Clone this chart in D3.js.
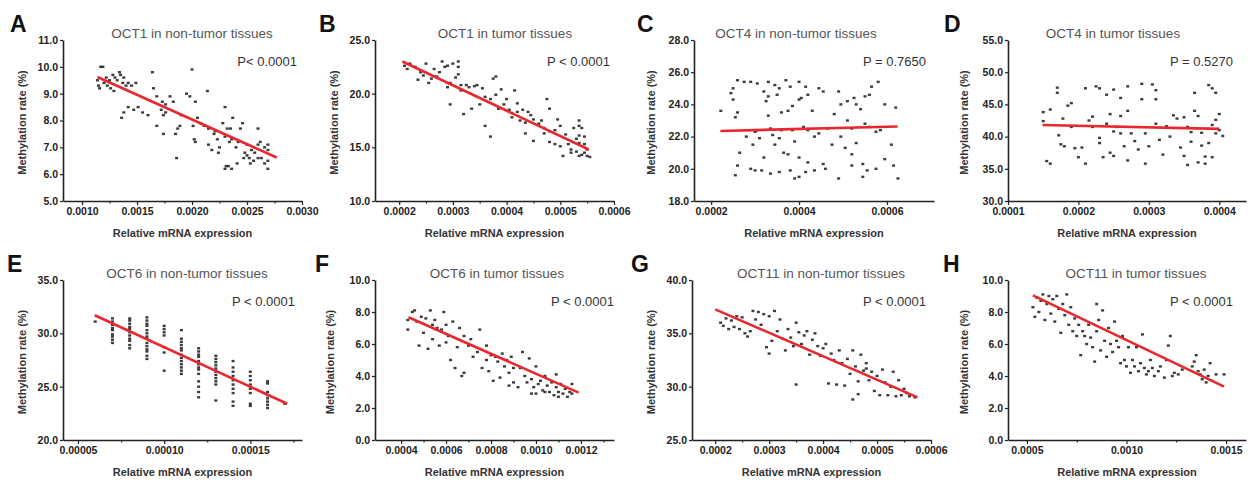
<!DOCTYPE html>
<html lang="en">
<head>
<meta charset="UTF-8">
<title>OCT methylation vs mRNA expression</title>
<script src="https://cdnjs.cloudflare.com/ajax/libs/d3/7.8.5/d3.min.js"></script>
<style>
    body { margin: 0; background: #fff; }
    svg { font-family: "Liberation Sans", Arial, sans-serif; }
</style>
</head>
<body>
<svg id="fig" width="1248" height="480"></svg>
<script>
// ---- A: OCT1 in non-tumor tissues ----
const ptsA = [
    [0.00114,9.5],[0.00115,9.3],[0.00117,10.0],[0.00119,10.0],[0.00116,9.2],[0.00120,9.4],[0.00122,9.6],[0.00123,9.3],
    [0.00125,9.5],[0.00126,9.2],[0.00128,9.7],[0.00130,9.6],[0.00132,9.5],[0.00134,9.8],[0.00135,9.7],[0.00138,9.6],
    [0.00140,9.3],[0.00142,9.4],[0.00145,9.3],[0.00137,9.4],[0.00129,9.1],[0.00136,8.1],[0.00138,8.3],[0.00142,8.5],
    [0.00147,8.4],[0.00151,8.5],[0.00155,8.3],[0.00160,8.2],[0.00149,9.4],[0.00164,9.8],[0.00165,9.2],[0.00168,8.9],
    [0.00173,8.7],[0.00176,8.6],[0.00172,8.4],[0.00174,8.2],[0.00176,8.3],[0.00180,8.9],[0.00183,8.7],[0.00168,7.8],
    [0.00174,7.5],[0.00185,7.5],[0.00187,7.7],[0.00189,7.8],[0.00190,8.2],[0.00186,6.6],[0.00195,9.0],[0.00198,8.9],
    [0.00200,9.9],[0.00201,7.8],[0.00202,7.3],[0.00203,7.2],[0.00203,8.7],[0.00205,8.1],[0.00208,7.9],[0.00211,7.8],
    [0.00214,9.1],[0.00215,7.7],[0.00215,7.1],[0.00218,6.9],[0.00220,7.5],[0.00221,7.6],[0.00223,7.3],[0.00225,7.0],
    [0.00224,6.8],[0.00228,7.9],[0.00230,8.5],[0.00232,7.7],[0.00235,7.7],[0.00230,7.4],[0.00234,7.2],[0.00236,7.3],
    [0.00240,7.0],[0.00242,7.2],[0.00237,8.1],[0.00244,7.7],[0.00246,7.9],[0.00250,7.1],[0.00254,6.9],[0.00257,6.8],
    [0.00260,7.1],[0.00262,7.2],[0.00231,6.3],[0.00230,6.2],[0.00233,6.3],[0.00236,6.2],[0.00241,6.4],[0.00247,6.6],
    [0.00250,6.7],[0.00253,6.4],[0.00256,6.5],[0.00260,7.7],[0.00263,6.6],[0.00266,6.4],[0.00269,6.5],[0.00269,7.1],
    [0.00269,6.9],[0.00269,6.2],[0.00248,6.8],[0.00252,6.6],[0.00260,6.6],[0.00266,7.0]
];
const fitA = [[0.00114, 9.62], [0.00277, 6.62]];
const xTicksA = [0.0010, 0.0015, 0.0020, 0.0025, 0.0030];
const yTicksA = [5, 6, 7, 8, 9, 10, 11];

// ---- B: OCT1 in tumor tissues ----
const ptsB = [
    [0.000210,22.6],[0.000215,22.3],[0.000220,22.8],[0.000230,22.5],[0.000235,21.3],[0.000240,22.0],[0.000245,21.7],
    [0.000250,22.8],[0.000255,21.0],[0.000260,21.4],[0.000265,22.3],[0.000270,21.6],[0.000275,22.0],[0.000280,23.0],
    [0.000285,22.5],[0.000290,22.6],[0.000295,21.0],[0.000290,20.6],[0.000295,19.0],[0.000300,22.8],[0.000305,21.5],
    [0.000310,23.0],[0.000310,22.5],[0.000310,21.8],[0.000315,20.8],[0.000315,20.3],[0.000320,18.1],[0.000325,20.8],
    [0.000330,20.6],[0.000335,18.6],[0.000340,20.7],[0.000345,20.8],[0.000350,19.0],[0.000355,20.5],[0.000360,19.7],
    [0.000360,17.0],[0.000370,19.5],[0.000375,21.4],[0.000370,16.0],[0.000380,21.6],[0.000380,19.9],[0.000385,18.6],
    [0.000390,20.4],[0.000395,19.0],[0.000400,19.5],[0.000405,18.5],[0.000410,18.2],[0.000415,20.3],[0.000420,19.1],
    [0.000410,17.8],[0.000420,18.3],[0.000425,17.5],[0.000430,18.5],[0.000435,17.3],[0.000435,16.3],[0.000440,18.3],
    [0.000445,18.0],[0.000450,17.6],[0.000450,15.6],[0.000460,17.2],[0.000465,17.5],[0.000470,16.8],[0.000470,16.3],
    [0.000475,19.5],[0.000480,18.6],[0.000480,16.5],[0.000490,16.6],[0.000495,17.6],[0.000500,17.0],[0.000480,15.5],
    [0.000490,15.3],[0.000500,15.1],[0.000505,14.2],[0.000510,16.2],[0.000515,15.3],[0.000520,14.5],[0.000520,14.8],
    [0.000525,16.8],[0.000530,14.6],[0.000535,17.5],[0.000535,17.0],[0.000535,16.1],[0.000535,15.4],[0.000535,14.2],
    [0.000540,16.8],[0.000545,16.0],[0.000545,15.3],[0.000545,14.5],[0.000550,14.2],[0.000550,14.8],[0.000530,15.8],
    [0.000540,14.3],[0.000555,14.1]
];
const fitB = [[0.000206, 23.0], [0.000553, 14.8]];
const xTicksB = [0.0002, 0.0003, 0.0004, 0.0005, 0.0006];
const yTicksB = [10, 15, 20, 25];

// ---- C: OCT4 in non-tumor tissues ----
const ptsC = [
    [0.000222,23.6],[0.000245,24.7],[0.000250,24.3],[0.000250,25.0],[0.000255,23.2],[0.000260,23.5],[0.000260,25.5],
    [0.000275,25.4],[0.000290,25.4],[0.000305,25.3],[0.000330,25.4],[0.000345,25.2],[0.000355,25.0],[0.000370,25.5],
    [0.000380,25.1],[0.000400,25.4],[0.000415,25.1],[0.000445,25.0],[0.000455,24.8],[0.000490,24.8],[0.000525,24.4],
    [0.000565,25.1],[0.000580,25.4],[0.000320,24.8],[0.000325,24.2],[0.000330,24.5],[0.000330,23.3],[0.000350,24.6],
    [0.000360,23.5],[0.000375,23.6],[0.000385,23.9],[0.000400,24.3],[0.000405,24.4],[0.000420,24.6],[0.000430,23.6],
    [0.000480,23.4],[0.000495,24.0],[0.000510,24.2],[0.000530,24.0],[0.000540,23.7],[0.000550,24.5],[0.000560,24.6],
    [0.000595,24.0],[0.000620,23.8],[0.000510,23.0],[0.000550,22.8],[0.000560,22.6],[0.000575,22.3],[0.000265,21.0],
    [0.000280,22.0],[0.000295,21.5],[0.000300,22.3],[0.000310,21.9],[0.000320,20.7],[0.000340,22.1],[0.000345,21.5],
    [0.000355,21.9],[0.000365,21.0],[0.000375,20.9],[0.000385,22.4],[0.000390,21.7],[0.000400,20.7],[0.000420,20.4],
    [0.000435,22.0],[0.000445,22.2],[0.000455,20.3],[0.000460,20.0],[0.000475,21.5],[0.000495,22.0],[0.000505,21.3],
    [0.000520,20.9],[0.000530,21.6],[0.000545,20.3],[0.000555,19.9],[0.000575,20.0],[0.000595,20.6],[0.000610,21.5],
    [0.000615,20.2],[0.000625,19.4],[0.000255,19.6],[0.000260,20.2],[0.000290,20.0],[0.000300,19.9],[0.000315,19.9],
    [0.000335,19.7],[0.000355,19.8],[0.000380,19.9],[0.000390,19.4],[0.000400,19.5],[0.000415,19.8],[0.000435,19.9],
    [0.000490,19.4],[0.000545,19.5],[0.000520,20.2],[0.000305,22.4],[0.000335,22.5],[0.000360,22.4],[0.000410,22.6],
    [0.000420,22.4],[0.000465,22.5],[0.000520,22.5],[0.000585,22.4]
];
const fitC = [[0.000221, 22.35], [0.000624, 22.63]];
const xTicksC = [0.0002, 0.0004, 0.0006];
const yTicksC = [18, 20, 22, 24, 26, 28];

// ---- D: OCT4 in tumor tissues ----
const ptsD = [
    [0.000150,43.8],[0.000150,42.4],[0.000155,36.2],[0.000160,44.2],[0.000160,35.8],[0.000170,47.6],[0.000170,46.8],
    [0.000172,40.2],[0.000175,38.8],[0.000178,42.8],[0.000180,38.5],[0.000185,44.8],[0.000190,45.2],[0.000190,41.5],
    [0.000195,38.2],[0.000200,36.8],[0.000205,38.3],[0.000210,47.5],[0.000210,35.8],[0.000215,42.5],[0.000220,43.1],
    [0.000220,41.5],[0.000225,47.8],[0.000230,47.5],[0.000230,39.8],[0.000230,39.0],[0.000235,36.8],[0.000240,46.5],
    [0.000240,42.0],[0.000245,43.5],[0.000245,37.5],[0.000250,47.3],[0.000250,40.8],[0.000250,37.0],[0.000255,41.5],
    [0.000260,46.0],[0.000260,43.2],[0.000260,40.5],[0.000265,38.5],[0.000270,47.8],[0.000270,44.0],[0.000270,36.3],
    [0.000275,40.5],[0.000280,39.3],[0.000285,38.0],[0.000290,48.2],[0.000290,45.8],[0.000295,40.5],[0.000295,35.8],
    [0.000300,38.5],[0.000305,48.1],[0.000310,47.2],[0.000310,45.8],[0.000310,42.0],[0.000315,39.5],[0.000320,37.2],
    [0.000325,41.6],[0.000330,40.0],[0.000335,43.3],[0.000340,42.8],[0.000345,38.3],[0.000350,43.0],[0.000350,37.0],
    [0.000355,41.5],[0.000360,40.7],[0.000360,39.2],[0.000365,46.8],[0.000365,44.0],[0.000370,36.0],[0.000370,43.2],
    [0.000375,40.6],[0.000375,38.6],[0.000380,36.9],[0.000385,48.0],[0.000385,41.2],[0.000385,39.0],[0.000390,47.5],
    [0.000390,41.8],[0.000390,36.8],[0.000395,42.6],[0.000395,40.5],[0.000400,43.5],[0.000400,41.0],[0.000405,40.1],
    [0.000355,35.6],[0.000380,35.8],[0.000395,46.8]
];
const fitD = [[0.000149, 41.8], [0.000400, 41.2]];
const xTicksD = [0.0001, 0.0002, 0.0003, 0.0004];
const yTicksD = [30, 35, 40, 45, 50, 55];

// ---- E: OCT6 in non-tumor tissues ----
const ptsE = [
    [0.000060,31.1],
    [0.000070,31.4],[0.000070,31.1],[0.000070,30.8],[0.000070,30.5],[0.000070,30.3],[0.000070,29.9],[0.000070,29.7],[0.000070,29.4],[0.000070,29.1],
    [0.000080,31.4],[0.000080,31.2],[0.000080,30.9],[0.000080,30.6],[0.000080,30.4],[0.000080,30.1],[0.000080,29.8],[0.000080,29.5],[0.000080,29.3],[0.000080,28.9],[0.000080,28.6],
    [0.000090,31.5],[0.000090,31.2],[0.000090,30.9],[0.000090,30.7],[0.000090,30.3],[0.000090,30.0],[0.000090,29.7],[0.000090,29.5],[0.000090,29.1],[0.000090,28.8],[0.000090,28.5],[0.000090,28.3],[0.000090,27.9],[0.000090,27.6],
    [0.000100,30.7],[0.000100,30.4],[0.000100,30.1],[0.000100,29.8],[0.000100,28.7],[0.000100,28.2],[0.000100,26.5],
    [0.000110,30.3],[0.000110,29.5],[0.000110,29.2],[0.000110,28.9],[0.000110,28.6],[0.000110,28.4],[0.000110,28.0],[0.000110,27.7],[0.000110,27.4],[0.000110,27.1],[0.000110,26.8],[0.000110,26.5],[0.000110,26.2],
    [0.000120,28.6],[0.000120,28.3],[0.000120,28.0],[0.000120,27.8],[0.000120,27.4],[0.000120,27.1],[0.000120,26.8],[0.000120,26.6],[0.000120,26.2],[0.000120,25.5],[0.000120,25.0],[0.000120,24.5],[0.000120,24.0],
    [0.000130,27.9],[0.000130,27.6],[0.000130,27.3],[0.000130,27.0],[0.000130,26.7],[0.000130,26.4],[0.000130,26.1],[0.000130,25.8],[0.000130,25.5],[0.000130,25.2],[0.000130,23.7],
    [0.000140,27.4],[0.000140,26.8],[0.000140,26.4],[0.000140,26.0],[0.000140,25.6],[0.000140,25.2],[0.000140,24.8],[0.000140,24.4],[0.000140,23.6],[0.000140,23.2],
    [0.000150,26.4],[0.000150,26.0],[0.000150,25.6],[0.000150,25.2],[0.000150,24.8],[0.000150,24.4],[0.000150,23.4],[0.000150,23.2],
    [0.000160,25.5],[0.000160,25.3],[0.000160,24.5],[0.000160,24.2],[0.000160,23.9],[0.000160,23.6],[0.000160,23.3],[0.000160,23.0],
    [0.000170,23.4]
];
const fitE = [[0.0000597, 31.7], [0.0001714, 23.4]];
const xTicksE = [0.00005, 0.00010, 0.00015];
const yTicksE = [20, 25, 30, 35];

// ---- F: OCT6 in tumor tissues ----
const ptsF = [
    [0.00043,7.5],[0.00043,6.9],[0.00045,8.0],[0.00046,8.1],[0.00047,7.4],[0.00048,5.9],[0.00049,7.7],[0.00050,6.7],
    [0.00051,7.6],[0.00052,5.7],[0.00053,8.1],[0.00054,7.2],[0.00054,6.3],[0.00055,7.5],[0.00056,7.0],[0.00057,5.9],
    [0.00058,6.9],[0.00059,8.0],[0.00060,7.2],[0.00060,6.1],[0.00061,6.5],[0.00062,5.0],[0.00063,7.4],[0.00064,4.5],
    [0.00065,5.8],[0.00066,7.0],[0.00067,4.0],[0.00068,4.2],[0.00068,6.5],[0.00070,5.9],[0.00071,6.3],[0.00072,5.2],
    [0.00074,5.5],[0.00075,6.9],[0.00076,4.5],[0.00078,5.0],[0.00078,5.9],[0.00079,4.3],[0.00080,5.3],[0.00081,3.7],
    [0.00082,5.2],[0.00083,4.9],[0.00084,3.9],[0.00085,5.4],[0.00086,4.6],[0.00087,5.0],[0.00088,3.4],[0.00088,4.2],
    [0.00089,5.2],[0.00090,3.6],[0.00090,4.5],[0.00092,3.3],[0.00093,4.5],[0.00094,5.5],[0.00095,4.0],[0.00096,3.6],
    [0.00097,5.1],[0.00098,3.8],[0.00099,3.3],[0.00100,4.6],[0.00100,2.9],[0.00101,3.5],[0.00102,3.7],[0.00103,3.1],
    [0.00104,4.0],[0.00105,3.4],[0.00106,3.0],[0.00107,3.6],[0.00108,2.8],[0.00109,3.3],[0.00109,4.1],[0.00110,3.0],
    [0.00111,3.5],[0.00112,2.9],[0.00113,3.2],[0.00114,2.7],[0.00115,3.0],[0.00116,2.9],[0.00116,3.5],[0.00104,3.0],
    [0.00098,2.9],[0.00110,2.7]
];
const fitF = [[0.000433, 7.67], [0.00119, 2.96]];
const xTicksF = [0.0004, 0.0006, 0.0008, 0.0010, 0.0012];
const yTicksF = [0, 2, 4, 6, 8, 10];

// ---- G: OCT11 in non-tumor tissues ----
const ptsG = [
    [0.000210,36.0],[0.000215,35.7],[0.000220,36.4],[0.000225,35.4],[0.000230,36.2],[0.000235,35.6],[0.000240,36.6],
    [0.000245,35.4],[0.000250,36.5],[0.000255,35.0],[0.000260,34.7],[0.000265,35.2],[0.000270,37.1],[0.000275,36.3],
    [0.000280,37.0],[0.000285,35.8],[0.000290,36.8],[0.000295,33.7],[0.000300,33.1],[0.000300,36.6],[0.000305,34.3],
    [0.000310,37.1],[0.000315,35.2],[0.000320,36.3],[0.000325,34.5],[0.000330,33.4],[0.000335,35.4],[0.000340,34.6],
    [0.000345,33.8],[0.000350,36.0],[0.000350,30.2],[0.000355,35.1],[0.000360,34.0],[0.000365,34.8],[0.000370,35.2],
    [0.000375,33.0],[0.000380,34.4],[0.000385,35.0],[0.000390,33.8],[0.000395,32.9],[0.000400,33.6],[0.000405,34.0],
    [0.000410,30.3],[0.000415,33.1],[0.000420,32.5],[0.000425,30.2],[0.000430,33.4],[0.000435,32.2],[0.000440,30.1],
    [0.000445,32.6],[0.000450,31.2],[0.000455,33.4],[0.000455,28.8],[0.000460,31.9],[0.000465,30.5],[0.000465,29.3],
    [0.000470,33.0],[0.000475,31.5],[0.000480,32.2],[0.000485,30.6],[0.000490,31.4],[0.000495,29.6],[0.000500,31.0],
    [0.000505,29.2],[0.000510,31.6],[0.000515,30.4],[0.000520,29.2],[0.000530,31.4],[0.000535,29.1],[0.000540,30.6],
    [0.000545,29.2],[0.000550,29.8],[0.000555,29.4],[0.000560,29.1],[0.000570,29.0],[0.000480,31.7],[0.000525,30.0]
];
const fitG = [[0.000200, 37.25], [0.000575, 29.0]];
const xTicksG = [0.0002, 0.0003, 0.0004, 0.0005, 0.0006];
const yTicksG = [25, 30, 35, 40];

// ---- H: OCT11 in tumor tissues ----
const ptsH = [
    [0.00053,8.3],[0.00054,7.7],[0.00055,8.9],[0.00056,8.0],[0.00057,8.7],[0.00058,9.1],[0.00059,7.5],[0.00060,8.5],
    [0.00061,9.0],[0.00062,7.9],[0.00063,8.8],[0.00064,7.4],[0.00065,9.0],[0.00066,8.2],[0.00067,6.7],[0.00068,8.5],
    [0.00069,7.8],[0.00070,9.1],[0.00071,7.2],[0.00072,8.3],[0.00073,6.8],[0.00074,7.6],[0.00075,6.5],[0.00076,7.2],
    [0.00077,5.3],[0.00078,6.8],[0.00079,6.5],[0.00080,6.0],[0.00081,7.2],[0.00082,6.4],[0.00083,5.8],[0.00084,4.9],
    [0.00085,8.5],[0.00085,6.8],[0.00086,7.5],[0.00087,5.6],[0.00088,8.1],[0.00089,6.2],[0.00090,5.2],[0.00091,7.0],
    [0.00092,6.0],[0.00093,5.5],[0.00094,7.4],[0.00095,6.2],[0.00096,5.8],[0.00097,4.8],[0.00098,6.5],[0.00099,5.0],
    [0.00100,4.6],[0.00101,5.8],[0.00102,4.2],[0.00103,5.0],[0.00104,4.6],[0.00105,5.8],[0.00106,4.3],[0.00107,4.8],
    [0.00108,6.6],[0.00109,4.5],[0.00110,4.1],[0.00111,4.3],[0.00113,4.5],[0.00114,4.0],[0.00116,4.3],[0.00117,4.6],
    [0.00119,3.9],[0.00120,5.0],[0.00121,5.9],[0.00122,6.5],[0.00123,4.0],[0.00124,4.2],[0.00126,4.1],[0.00133,4.6],
    [0.00134,4.9],[0.00135,5.3],[0.00136,4.3],[0.00137,4.1],[0.00138,3.8],[0.00139,4.4],[0.00140,3.6],[0.00141,4.0],
    [0.00142,4.8],[0.00143,3.7],[0.00145,4.1],[0.00149,4.1],[0.00112,5.0],[0.00128,4.4]
];
const fitH = [[0.00053, 9.04], [0.00149, 3.34]];
const xTicksH = [0.0005, 0.0010, 0.0015];
const yTicksH = [0, 2, 4, 6, 8, 10];

const letters = ["A", "B", "C", "D", "E", "F", "G", "H"];
const titles = [
    "OCT1 in non-tumor tissues", "OCT1 in tumor tissues",
    "OCT4 in non-tumor tissues", "OCT4 in tumor tissues",
    "OCT6 in non-tumor tissues", "OCT6 in tumor tissues",
    "OCT11 in non-tumor tissues", "OCT11 in tumor tissues"
];
const pLabels = ["P< 0.0001", "P < 0.0001", "P = 0.7650", "P = 0.5270",
                 "P < 0.0001", "P < 0.0001", "P < 0.0001", "P < 0.0001"];

// layout of each panel (pixels) + axis domains
const panels = [
    {pts: ptsA, fit: fitA, xt: xTicksA, yt: yTicksA, xDom: [0.000827, 0.0030], yDom: [5, 11], fmt: ".4f",
     left: 63, right: 302, top: 40, bottom: 201, titleX: 192, pX: 297, letX: 10, ytX: 22, minor: true},
    {pts: ptsB, fit: fitB, xt: xTicksB, yt: yTicksB, xDom: [0.000155, 0.0006], yDom: [10, 25], fmt: ".4f",
     left: 375, right: 614, top: 40, bottom: 201, titleX: 505, pX: 610, letX: 319, ytX: 334, minor: true},
    {pts: ptsC, fit: fitC, xt: xTicksC, yt: yTicksC, xDom: [0.000161, 0.000707], yDom: [18, 28], fmt: ".4f",
     left: 694, right: 934, top: 40, bottom: 201, titleX: 796, pX: 926, letX: 637, ytX: 651, minor: false},
    {pts: ptsD, fit: fitD, xt: xTicksD, yt: yTicksD, xDom: [0.0001, 0.000438], yDom: [30, 55], fmt: ".4f",
     left: 1008, right: 1246, top: 40, bottom: 201, titleX: 1113, pX: 1233, letX: 944, ytX: 964, minor: false},
    {pts: ptsE, fit: fitE, xt: xTicksE, yt: yTicksE, xDom: [0.0000413, 0.000180], yDom: [20, 35], fmt: ".5f",
     left: 63, right: 302, top: 280, bottom: 440, titleX: 187, pX: 295, letX: 7, ytX: 22, minor: true},
    {pts: ptsF, fit: fitF, xt: xTicksF, yt: yTicksF, xDom: [0.000284, 0.001347], yDom: [0, 10], fmt: ".4f",
     left: 375, right: 614, top: 280, bottom: 440, titleX: 497, pX: 614, letX: 315, ytX: 330, minor: true},
    {pts: ptsG, fit: fitG, xt: xTicksG, yt: yTicksG, xDom: [0.000157, 0.0006], yDom: [25, 40], fmt: ".4f",
     left: 692, right: 931, top: 280, bottom: 440, titleX: 821, pX: 926, letX: 631, ytX: 651, minor: true},
    {pts: ptsH, fit: fitH, xt: xTicksH, yt: yTicksH, xDom: [0.000405, 0.0016], yDom: [0, 10], fmt: ".4f",
     left: 1008, right: 1246, top: 280, bottom: 440, titleX: 1136, pX: 1233, letX: 943, ytX: 964, minor: true}
];

const svg = d3.select("#fig");

panels.forEach(function(p, i) {
    const x = d3.scaleLinear().domain(p.xDom).range([p.left, p.right]);
    const y = d3.scaleLinear().domain(p.yDom).range([p.bottom, p.top]);
    const g = svg.append("g");
    const rowTop = p.top - 40;

    // scatter points (small dark squares)
    g.append("g").selectAll("rect")
        .data(p.pts)
        .enter().append("rect")
        .attr("x", d => x(d[0]) - 1.5)
        .attr("y", d => y(d[1]) - 1.2)
        .attr("width", 3)
        .attr("height", 2.4)
        .attr("fill", "#1a1a1a")
        .attr("opacity", 0.85);

    // regression line
    g.append("line")
        .attr("x1", x(p.fit[0][0])).attr("y1", y(p.fit[0][1]))
        .attr("x2", x(p.fit[1][0])).attr("y2", y(p.fit[1][1]))
        .attr("stroke", "#e8282e")
        .attr("stroke-width", 2.6);

    // x axis
    const xAxis = d3.axisBottom(x)
        .tickValues(p.xt)
        .tickFormat(d3.format(p.fmt))
        .tickSize(4).tickSizeOuter(0).tickPadding(3);
    const gx = g.append("g").attr("transform", "translate(0," + p.bottom + ")").call(xAxis);

    if (p.minor) {
        const mids = d3.pairs(p.xt).map(d => (d[0] + d[1]) / 2)
            .concat([p.xt[p.xt.length - 1] + (p.xt[1] - p.xt[0]) / 2])
            .filter(v => v <= p.xDom[1]);
        g.append("g").attr("transform", "translate(0," + p.bottom + ")")
            .call(d3.axisBottom(x).tickValues(mids).tickFormat("").tickSize(2.5).tickSizeOuter(0))
            .select(".domain").remove();
    }

    // y axis
    const yAxis = d3.axisLeft(y)
        .tickValues(p.yt)
        .tickFormat(d3.format(".1f"))
        .tickSize(3).tickSizeOuter(0).tickPadding(2);
    const gy = g.append("g").attr("transform", "translate(" + p.left + ",0)").call(yAxis);

    g.selectAll(".domain").attr("stroke", "#222").attr("stroke-width", 1.6);
    g.selectAll(".tick line").attr("stroke", "#222").attr("stroke-width", 1.2);
    g.selectAll(".tick text").attr("fill", "#222")
        .style("font-size", "10.5px").style("font-weight", "bold")
        .style("font-family", "'Liberation Sans', Arial, sans-serif");

    // axis titles
    g.append("text")
        .attr("x", (p.left + p.right) / 2).attr("y", p.bottom + 36)
        .attr("text-anchor", "middle")
        .style("font-size", "11px").style("font-weight", "bold").attr("fill", "#333")
        .text("Relative mRNA expression");

    g.append("text")
        .attr("transform", "translate(" + (p.ytX + 4) + "," + ((p.top + p.bottom) / 2 + 2) + ") rotate(-90)")
        .attr("text-anchor", "middle")
        .style("font-size", "11px").style("font-weight", "bold").attr("fill", "#333")
        .text("Methylation rate (%)");

    // panel title, p value, letter
    g.append("text")
        .attr("x", p.titleX).attr("y", rowTop + 38)
        .attr("text-anchor", "middle")
        .style("font-size", "13.5px").attr("fill", "#555")
        .text(titles[i]);

    g.append("text")
        .attr("x", p.pX).attr("y", rowTop + 66)
        .attr("text-anchor", "end")
        .style("font-size", "13px").attr("fill", "#333")
        .text(pLabels[i]);

    g.append("text")
        .attr("x", p.letX).attr("y", rowTop + 32)
        .style("font-size", "23px").style("font-weight", "bold").attr("fill", "#111")
        .text(letters[i]);
});
</script>
</body>
</html>
